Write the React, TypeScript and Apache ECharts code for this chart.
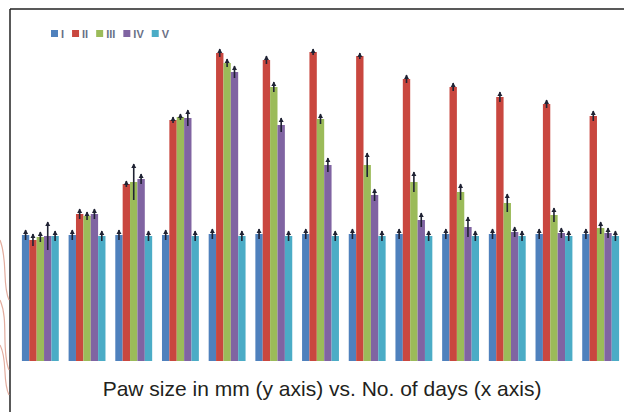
import React, { useEffect, useRef } from "react";
import * as echarts from "echarts";

const days = ["1", "2", "3", "4", "5", "6", "7", "8", "9", "10", "11", "12", "13"];
const seriesNames = ["I", "II", "III", "IV", "V"];
const colors = ["#4f81bd", "#c9473f", "#9bbb59", "#8064a2", "#4bacc6"];

const groupI = [1.26, 1.26, 1.26, 1.26, 1.27, 1.27, 1.27, 1.27, 1.27, 1.27, 1.27, 1.27, 1.27];
const groupII = [1.21, 1.47, 1.77, 2.41, 3.08, 3.01, 3.09, 3.05, 2.82, 2.74, 2.64, 2.57, 2.45];
const groupIII = [1.24, 1.45, 1.79, 2.44, 2.98, 2.74, 2.42, 1.96, 1.79, 1.69, 1.58, 1.46, 1.33];
const groupIV = [1.25, 1.47, 1.82, 2.43, 2.89, 2.36, 1.96, 1.66, 1.41, 1.34, 1.29, 1.28, 1.28];
const groupV = [1.25, 1.25, 1.25, 1.25, 1.25, 1.25, 1.25, 1.25, 1.25, 1.25, 1.25, 1.25, 1.25];

const errI = [0.05, 0.05, 0.05, 0.05, 0.05, 0.05, 0.05, 0.05, 0.05, 0.05, 0.05, 0.05, 0.05];
const errII = [0.06, 0.05, 0.03, 0.03, 0.04, 0.04, 0.03, 0.03, 0.04, 0.04, 0.05, 0.04, 0.05];
const errIII = [0.05, 0.04, 0.18, 0.03, 0.04, 0.05, 0.05, 0.12, 0.1, 0.08, 0.09, 0.07, 0.06];
const errIV = [0.14, 0.05, 0.05, 0.08, 0.06, 0.07, 0.07, 0.06, 0.07, 0.1, 0.05, 0.05, 0.05];
const errV = [0.05, 0.05, 0.05, 0.05, 0.05, 0.05, 0.05, 0.05, 0.05, 0.05, 0.05, 0.05, 0.05];

const caption = "Paw size in mm (y axis) vs. No. of days (x axis)";

const CAT_GAP = 0.21;

export default function App() {
  const ref = useRef<HTMLDivElement>(null);
  useEffect(() => {
    if (!ref.current) return;
    const chart = echarts.init(ref.current, undefined, { renderer: "svg" });
    const values = [groupI, groupII, groupIII, groupIV, groupV];
    const errs = [errI, errII, errIII, errIV, errV];
    const errData: number[][] = [];
    values.forEach((arr, k) => {
      arr.forEach((v, i) => {
        errData.push([i, k, v, errs[k][i]]);
      });
    });
    const barSeries = values.map((arr, k) => ({
      name: seriesNames[k],
      type: "bar",
      data: arr,
      barGap: "0%",
      barCategoryGap: CAT_GAP * 100 + "%",
      itemStyle: { color: colors[k] },
    }));
    chart.setOption({
      animation: false,
      backgroundColor: "#ffffff",
      legend: {
        data: seriesNames,
        left: 46,
        top: 23,
        itemWidth: 7,
        itemHeight: 7,
        itemGap: 8,
        icon: "rect",
        textStyle: { color: "#6a6f86", fontSize: 11, fontWeight: "bold", fontFamily: "Liberation Sans", padding: [0, 0, 0, -2] },
      },
      grid: { left: 17, width: 611, top: 11, bottom: 51 },
      xAxis: { type: "category", data: days, show: false },
      yAxis: { type: "value", min: 0, max: 3.5, show: false },
      series: [
        ...barSeries,
        {
          type: "custom",
          z: 5,
          data: errData,
          encode: { x: 0, y: 2 },
          renderItem: (params: any, api: any) => {
            const cat = api.value(0);
            const k = api.value(1);
            const v = api.value(2);
            const e = api.value(3);
            const band = api.size([1, 0])[0];
            const barW = (band * (1 - CAT_GAP)) / 5;
            const cx = api.coord([cat, v])[0] + (k - 2) * barW;
            const yTop = api.coord([cat, v + e])[1];
            const yBot = api.coord([cat, v - e])[1];
            return {
              type: "group",
              children: [
                {
                  type: "line",
                  shape: { x1: cx, y1: yTop, x2: cx, y2: yBot },
                  style: { stroke: "#1f2233", lineWidth: 1.6 },
                },
                {
                  type: "polygon",
                  shape: { points: [[cx - 2.5, yTop + 4], [cx + 2.5, yTop + 4], [cx, yTop - 0.5]] },
                  style: { fill: "#1f2233" },
                },
              ],
            };
          },
        },
      ],
      graphic: [
        { type: "line", shape: { x1: 10, y1: 9, x2: 624, y2: 9 }, style: { stroke: "#222222", lineWidth: 1.5 } },
        { type: "line", shape: { x1: 10, y1: 9, x2: 10, y2: 412 }, style: { stroke: "#222222", lineWidth: 1.5 } },
        { type: "bezierCurve", shape: { x1: 0, y1: 240, x2: 9, y2: 300, cpx1: 8, cpy1: 260, cpx2: 2, cpy2: 285 }, style: { stroke: "#e3ad9f", lineWidth: 1.2, fill: null } },
        { type: "bezierCurve", shape: { x1: 0, y1: 300, x2: 9, y2: 370, cpx1: 9, cpy1: 320, cpx2: 1, cpy2: 350 }, style: { stroke: "#e3ad9f", lineWidth: 1.2, fill: null } },
        { type: "bezierCurve", shape: { x1: 0, y1: 345, x2: 9, y2: 395, cpx1: 8, cpy1: 360, cpx2: 2, cpy2: 380 }, style: { stroke: "#e3ad9f", lineWidth: 1.2, fill: null } },
        {
          type: "text",
          x: 322,
          y: 388,
          style: {
            text: caption,
            fill: "#231f20",
            font: "21px 'Liberation Sans', Arial, sans-serif",
            textAlign: "center",
            textVerticalAlign: "middle",
          },
        },
      ],
    });
    return () => chart.dispose();
  }, []);
  return <div ref={ref} style={{ position: "fixed", left: 0, top: 0, width: 624, height: 412 }} />;
}
